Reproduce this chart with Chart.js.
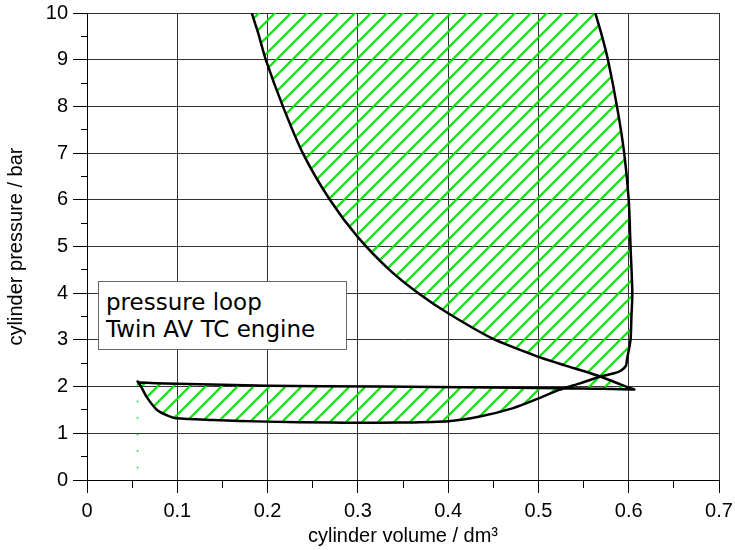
<!DOCTYPE html>
<html>
<head>
<meta charset="utf-8">
<title>pressure loop</title>
<script src="https://cdn.jsdelivr.net/npm/chart.js@4.4.1/dist/chart.umd.min.js"></script>
<style>
  body { margin: 0; background: #fff; }
  #wrap { position: relative; width: 735px; height: 550px; }
  #note {
    position: absolute; left: 98px; top: 281px;
    width: 233px; height: 53px; padding: 7px;
    border: 1px solid #666; background: #fff;
    font-family: "DejaVu Sans", sans-serif; font-size: 23px; line-height: 27px;
    color: #000; white-space: nowrap; overflow: visible;
  }
</style>
</head>
<body>
<div id="wrap">
  <canvas id="loopChart" width="735" height="550"></canvas>
  <div id="note">pressure loop<br>Twin AV TC engine</div>
</div>
<script>
// Expansion stroke, from above the plot down to the exhaust valve opening
const expansionV = [0.541, 0.563, 0.5695, 0.577, 0.587, 0.595, 0.600, 0.602, 0.604, 0.603, 0.602, 0.598, 0.597];
const expansionP = [11.5, 10.0, 9.57, 9.0, 8.0, 7.0, 6.0, 5.0, 4.0, 3.5, 3.0, 2.57, 2.45];

// Exhaust stroke, back towards TDC
const exhaustV = [0.592, 0.585, 0.568, 0.546, 0.523, 0.498, 0.472, 0.435, 0.400, 0.346, 0.300, 0.269, 0.199, 0.140, 0.099, 0.088, 0.077, 0.066, 0.0605, 0.056];
const exhaustP = [2.35, 2.29, 2.21, 2.07, 1.93, 1.73, 1.54, 1.36, 1.26, 1.23, 1.225, 1.23, 1.25, 1.285, 1.32, 1.39, 1.51, 1.78, 1.98, 2.11];

// Intake stroke at boost pressure
const intakeV = [0.058, 0.100, 0.200, 0.324, 0.450, 0.550, 0.606];
const intakeP = [2.09, 2.06, 2.02, 2.00, 1.98, 1.96, 1.94];

// Compression stroke, leaves the plot at the top
const compressionV = [0.601, 0.580, 0.557, 0.530, 0.501, 0.450, 0.400, 0.367, 0.335, 0.300, 0.269, 0.239, 0.217, 0.198, 0.1896, 0.1826, 0.163];
const compressionP = [1.97, 2.13, 2.29, 2.45, 2.63, 3.02, 3.57, 4.00, 4.50, 5.20, 6.00, 7.00, 8.00, 9.00, 9.57, 10.0, 11.5];

// Green dotted marker at the TDC volume
const markerV = [0.056, 0.056];
const markerP = [2.05, 0.0];

// Axis ticks
const xTicks = [0, 0.1, 0.2, 0.3, 0.4, 0.5, 0.6, 0.7];
const yTicks = [0, 1, 2, 3, 4, 5, 6, 7, 8, 9, 10];

(function() {
    'use strict';

    const GREEN = 'rgb(0, 230, 0)';

    function toPoints(vs, ps) {
        return vs.map(function(v, i) { return {x: v, y: ps[i]}; });
    }

    // whole cycle as one closed path so the filler can hatch its inside
    const loop = [].concat(
        toPoints(expansionV, expansionP),
        toPoints(exhaustV, exhaustP),
        toPoints(intakeV, intakeP),
        toPoints(compressionV, compressionP)
    );

    // diagonal hatch pattern
    function makeHatch() {
        const s = 16;
        const c = document.createElement('canvas');
        c.width = s;
        c.height = s;
        const g = c.getContext('2d');
        g.strokeStyle = GREEN;
        g.lineWidth = 2.2;
        g.beginPath();
        g.moveTo(-s / 2, s / 2); g.lineTo(s / 2, -s / 2);
        g.moveTo(0, s); g.lineTo(s, 0);
        g.moveTo(s / 2, s * 1.5); g.lineTo(s * 1.5, s / 2);
        g.stroke();
        return g.createPattern(c, 'repeat');
    }

    function isMajor(value, step) {
        const k = value / step;
        return Math.abs(k - Math.round(k)) < 1e-6;
    }

    function hasTick(list, value) {
        return list.some(function(t) { return Math.abs(t - value) < 1e-6; });
    }

    Chart.defaults.font.family = '"Liberation Sans", Arial, sans-serif';
    Chart.defaults.color = '#000';

    const ctx = document.getElementById('loopChart').getContext('2d');
    new Chart(ctx, {
        type: 'scatter',
        data: {
            datasets: [{
                data: toPoints(markerV, markerP),
                showLine: true,
                borderColor: GREEN,
                borderWidth: 1.5,
                borderDash: [1.5, 15],
                pointRadius: 0,
                fill: false,
                order: 2
            }, {
                data: loop,
                showLine: true,
                borderColor: '#000',
                borderWidth: 2.5,
                borderJoinStyle: 'round',
                borderCapStyle: 'round',
                backgroundColor: makeHatch(),
                fill: 'shape',
                tension: 0.25,
                pointRadius: 0,
                order: 1
            }]
        },
        options: {
            responsive: false,
            animation: false,
            layout: {
                padding: {top: 13, right: 16, bottom: 0, left: 0}
            },
            plugins: {
                legend: {display: false},
                tooltip: {enabled: false}
            },
            scales: {
                x: {
                    type: 'linear',
                    min: 0,
                    max: 0.7,
                    afterFit: function(scale) {
                        scale.height = 70;
                        scale.paddingLeft = 0;
                        scale.paddingRight = 0;
                    },
                    border: {color: '#000', width: 1},
                    grid: {
                        color: function(c) { return isMajor(c.tick.value, 0.1) ? '#333' : 'rgba(0,0,0,0)'; },
                        tickColor: '#000',
                        tickLength: 13,
                        tickBorderDash: function(c) { return isMajor(c.tick.value, 0.1) ? [] : [7, 30]; }
                    },
                    ticks: {
                        stepSize: 0.05,
                        autoSkip: false,
                        maxRotation: 0,
                        padding: 6,
                        font: {size: 20},
                        callback: function(v) {
                            return hasTick(xTicks, v) ? String(Math.round(v * 10) / 10) : '';
                        }
                    },
                    title: {
                        display: true,
                        text: 'cylinder volume / dm³',
                        font: {size: 20},
                        padding: {top: 0, bottom: 2}
                    }
                },
                y: {
                    type: 'linear',
                    min: 0,
                    max: 10,
                    afterFit: function(scale) {
                        scale.width = 87;
                        scale.paddingTop = 0;
                        scale.paddingBottom = 0;
                    },
                    border: {color: '#000', width: 1},
                    grid: {
                        color: function(c) { return isMajor(c.tick.value, 1) ? '#333' : 'rgba(0,0,0,0)'; },
                        tickColor: '#000',
                        tickLength: 14,
                        tickBorderDash: function(c) { return isMajor(c.tick.value, 1) ? [] : [6, 8]; },
                        tickBorderDashOffset: function(c) { return isMajor(c.tick.value, 1) ? 0 : 6; }
                    },
                    ticks: {
                        stepSize: 0.5,
                        autoSkip: false,
                        padding: 5,
                        font: {size: 20},
                        callback: function(v) {
                            return hasTick(yTicks, v) ? String(Math.round(v)) : '';
                        }
                    },
                    title: {
                        display: true,
                        text: 'cylinder pressure / bar',
                        font: {size: 20},
                        padding: {top: 4, bottom: 0}
                    }
                }
            }
        }
    });
})();
</script>
</body>
</html>
